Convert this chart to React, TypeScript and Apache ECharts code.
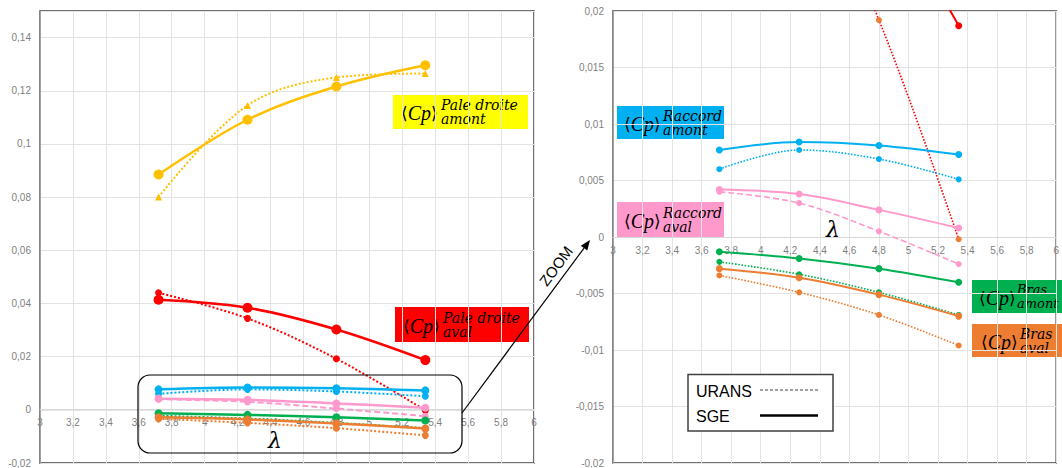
import React, { useEffect, useRef } from 'react';
import * as echarts from 'echarts';

// Tip-speed ratio lambda (x values)
const lambda = [3.72, 4.26, 4.8, 5.34];

// <Cp> values per component (SGE = solid, URANS = dotted)
const paleAmontSGE = [0.0885, 0.1091, 0.1216, 0.1296];
const paleAmontURANS = [0.08, 0.1145, 0.125, 0.1265];
const paleAvalSGE = [0.0414, 0.0384, 0.0302, 0.0187];
const paleAvalURANS = [0.044, 0.0344, 0.0192, -0.0002];
const raccordAmontSGE = [0.0077, 0.0084, 0.0081, 0.0073];
const raccordAmontURANS = [0.006, 0.0077, 0.0069, 0.0051];
const raccordAvalSGE = [0.0042, 0.0038, 0.0024, 0.0008];
const raccordAvalURANS = [0.004, 0.003, 0.0005, -0.0024];
const brasAmontSGE = [-0.0013, -0.0019, -0.0028, -0.004];
const brasAmontURANS = [-0.0022, -0.0033, -0.0049, -0.0069];
const brasAvalSGE = [-0.0028, -0.0036, -0.0051, -0.007];
const brasAvalURANS = [-0.0034, -0.0049, -0.0069, -0.0096];

// Axis ticks
const xTicks = { min: 3, max: 6, step: 0.2 };
const yLeftTicks = { min: -0.02, max: 0.15, step: 0.02 };
const yRightTicks = { min: -0.02, max: 0.02, step: 0.005 };

const C = {
  yellow: '#FFC000',
  red: '#FF0000',
  blue: '#00B0F0',
  pink: '#FF99CC',
  green: '#00B050',
  orange: '#ED7D31',
};

type Curve = { vals: number[]; color: string; urans: boolean; dashed?: boolean; sym?: string; big?: boolean };
const curves: Curve[] = [
  { vals: paleAmontSGE, color: C.yellow, urans: false, big: true },
  { vals: paleAmontURANS, color: C.yellow, urans: true, sym: 'triangle', big: true },
  { vals: paleAvalSGE, color: C.red, urans: false, big: true },
  { vals: paleAvalURANS, color: C.red, urans: true },
  { vals: raccordAmontSGE, color: C.blue, urans: false },
  { vals: raccordAmontURANS, color: C.blue, urans: true },
  { vals: raccordAvalSGE, color: C.pink, urans: false },
  { vals: raccordAvalURANS, color: C.pink, urans: true, dashed: true },
  { vals: brasAmontSGE, color: C.green, urans: false },
  { vals: brasAmontURANS, color: C.green, urans: true },
  { vals: brasAvalSGE, color: C.orange, urans: false },
  { vals: brasAvalURANS, color: C.orange, urans: true },
];

function fmt(v: number) {
  return String(parseFloat(v.toFixed(4))).replace('.', ',');
}

function onStep(v: number, step: number) {
  const r = v / step;
  return Math.abs(r - Math.round(r)) < 1e-6;
}

const SERIF = '"DejaVu Serif", serif';
const TSERIF = '"Liberation Serif", serif';
const SANS = '"Liberation Sans", Arial, sans-serif';

function cpLabel(x: number, y: number, w: number, h: number, bg: string, sup: string, sub: string, cpDx: number, supDx: number, supSize = 14) {
  const cy = y + h / 2;
  return {
    type: 'group',
    children: [
      { type: 'rect', shape: { x, y, width: w, height: h }, style: { fill: bg } },
      {
        type: 'text', x: x + cpDx, y: cy + 1,
        style: {
          text: '{b|⟨}{c|Cp}{b|⟩}',
          verticalAlign: 'middle', align: 'left',
          rich: {
            b: { fontSize: 17, fontFamily: '"DejaVu Sans", sans-serif', fill: '#000' },
            c: { fontSize: 20, fontStyle: 'italic', fontFamily: TSERIF, fill: '#000' },
          },
        },
      },
      {
        type: 'text', x: x + supDx, y: cy - 7,
        style: { text: sup, fontSize: supSize, fontStyle: 'italic', fontFamily: SERIF, fill: '#000', verticalAlign: 'middle', align: 'left' },
      },
      {
        type: 'text', x: x + supDx, y: cy + 7,
        style: { text: sub, fontSize: supSize, fontStyle: 'italic', fontFamily: SERIF, fill: '#000', verticalAlign: 'middle', align: 'left' },
      },
    ],
  };
}

function buildSeries(g: number) {
  return curves.map((c) => {
    const w = g === 0 ? (c.urans ? 2 : 2.5) : (c.urans ? 1.6 : 2);
    const dash = c.urans ? (c.dashed ? [6, 3] : [w, w]) : 'solid';
    const size = g === 0 ? (c.urans ? 7 : c.big ? 10 : 8) : c.urans ? 6 : 7;
    return {
      type: 'line',
      xAxisIndex: g,
      yAxisIndex: g,
      smooth: 0.35,
      symbol: c.sym || 'circle',
      symbolSize: size,
      clip: true,
      data: c.vals.map((v, i) => {
        const item: any = { value: [lambda[i], v] };
        if (g === 1 && c.vals === paleAvalURANS && i >= 2) item.itemStyle = { color: C.orange };
        return item;
      }),
      lineStyle: { color: c.color, width: w, type: dash },
      itemStyle: { color: c.color },
      z: c.urans ? 3 : 4,
    };
  });
}

function xAxisCfg(g: number, offset: number) {
  return {
    type: 'value',
    gridIndex: g,
    position: 'bottom',
    offset,
    min: xTicks.min,
    max: xTicks.max,
    interval: xTicks.step,
    axisLine: { show: true, onZero: false, lineStyle: { color: '#D9D9D9', width: 1 } },
    axisTick: { show: false },
    axisLabel: {
      color: '#7F7F7F', fontSize: 10, fontFamily: SANS, margin: 8,
      formatter: (v: number) => fmt(v),
    },
    splitLine: { show: true, lineStyle: { color: '#E3E3E3', width: 1 } },
  };
}

function yAxisCfg(g: number, t: { min: number; max: number; step: number }) {
  return {
    type: 'value',
    gridIndex: g,
    min: t.min,
    max: t.max,
    interval: t.step,
    axisLine: { show: true, onZero: false, lineStyle: { color: '#8C8C8C', width: 1.5 } },
    axisTick: { show: false },
    axisLabel: {
      color: '#7F7F7F', fontSize: 10, fontFamily: SANS, margin: 9,
      formatter: (v: number) => (onStep(v, t.step) ? fmt(v) : ''),
    },
    splitLine: { show: true, lineStyle: { color: '#E3E3E3', width: 1 } },
  };
}

export default function App() {
  const ref = useRef<HTMLDivElement>(null);
  useEffect(() => {
    if (!ref.current) return;
    const chart = echarts.init(ref.current, null, { renderer: 'svg' });

    const leftH = 453, rightH = 452;
    // distance from bottom edge to y = 0 in each grid
    const leftOff = -((0 - yLeftTicks.min) / (yLeftTicks.max - yLeftTicks.min)) * leftH;
    const rightOff = -((0 - yRightTicks.min) / (yRightTicks.max - yRightTicks.min)) * rightH;

    // arrow geometry
    const ax0 = 462, ay0 = 413, ax1 = 590, ay1 = 240;
    const dx = ax1 - ax0, dy = ay1 - ay0;
    const len = Math.hypot(dx, dy);
    const ux = dx / len, uy = dy / len;
    const nx = -uy, ny = ux;
    const hl = 10, hw = 4;
    const bx = ax1 - ux * hl, by = ay1 - uy * hl;

    chart.setOption({
      animation: false,
      backgroundColor: '#fff',
      grid: [
        { left: 40, top: 11, width: 494, height: leftH, show: true, borderColor: '#404040', borderWidth: 1.5, backgroundColor: 'transparent' },
        { left: 613, top: 11, width: 450, height: rightH, show: true, borderColor: '#404040', borderWidth: 1.5, backgroundColor: 'transparent' },
      ],
      xAxis: [xAxisCfg(0, leftOff), xAxisCfg(1, rightOff)],
      yAxis: [yAxisCfg(0, yLeftTicks), yAxisCfg(1, yRightTicks)],
      series: [...buildSeries(0), ...buildSeries(1)],
      graphic: [
        cpLabel(393, 95, 135, 34, '#FFFF00', 'Pale droite', 'amont', 8, 48),
        cpLabel(395, 307, 134, 35, '#FF0000', 'Pale droite', 'aval', 8, 48),
        cpLabel(617, 106, 107, 33, '#00B0F0', 'Raccord', 'amont', 7, 46),
        cpLabel(617, 202, 107, 35, '#FF99CC', 'Raccord', 'aval', 7, 46),
        cpLabel(972, 280, 90, 33, '#00B050', 'Bras', 'amont', 7, 45, 13),
        cpLabel(972, 324, 90, 33, '#ED7D31', 'Bras', 'aval', 9, 48),
        // zoom box
        {
          type: 'rect', shape: { x: 138, y: 375, width: 324, height: 78, r: 12 },
          style: { fill: 'transparent', stroke: '#000', lineWidth: 1.2 }, z: 10,
        },
        {
          type: 'text', x: 275, y: 440,
          style: { text: 'λ', fontSize: 22, fontStyle: 'italic', fontFamily: SERIF, fill: '#000', align: 'center', verticalAlign: 'middle' }, z: 10,
        },
        {
          type: 'text', x: 833, y: 229,
          style: { text: 'λ', fontSize: 22, fontStyle: 'italic', fontFamily: SERIF, fill: '#000', align: 'center', verticalAlign: 'middle' }, z: 10,
        },
        // arrow
        { type: 'line', shape: { x1: ax0, y1: ay0, x2: bx, y2: by }, style: { stroke: '#000', lineWidth: 1.2 }, z: 10 },
        {
          type: 'polygon',
          shape: { points: [[ax1, ay1], [bx + nx * hw, by + ny * hw], [bx - nx * hw, by - ny * hw]] },
          style: { fill: '#000' }, z: 10,
        },
        {
          type: 'text', x: 556, y: 266, rotation: Math.atan2(-dy, dx),
          style: { text: 'ZOOM', fontSize: 15, fontFamily: SANS, fill: '#000', align: 'center', verticalAlign: 'middle' }, z: 10,
        },
        // legend
        {
          type: 'rect', shape: { x: 688, y: 374.5, width: 145, height: 56.5 },
          style: { fill: '#fff', stroke: '#404040', lineWidth: 1.5 }, z: 10,
        },
        {
          type: 'text', x: 696, y: 391,
          style: { text: 'URANS', fontSize: 16, fontFamily: SANS, fill: '#000', verticalAlign: 'middle' }, z: 11,
        },
        {
          type: 'text', x: 696, y: 416,
          style: { text: 'SGE', fontSize: 16, fontFamily: SANS, fill: '#000', verticalAlign: 'middle' }, z: 11,
        },
        { type: 'line', shape: { x1: 760, y1: 390, x2: 818, y2: 390 }, style: { stroke: '#404040', lineWidth: 1, lineDash: [3, 2] }, z: 11 },
        { type: 'line', shape: { x1: 760, y1: 415.5, x2: 818, y2: 415.5 }, style: { stroke: '#000', lineWidth: 2.5 }, z: 11 },
      ],
    });
    return () => chart.dispose();
  }, []);
  return <div ref={ref} style={{ position: 'fixed', left: 0, top: 0, width: 1062, height: 468 }} />;
}
